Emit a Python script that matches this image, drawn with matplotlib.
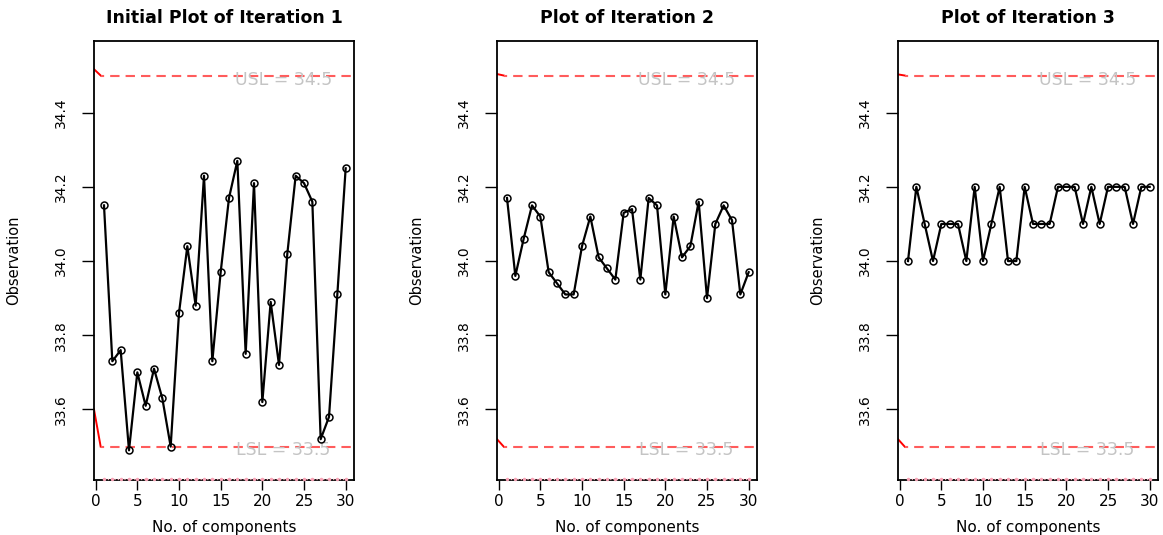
import matplotlib
matplotlib.use("Agg")
import matplotlib.pyplot as plt
import numpy as np

# data
components = list(range(1, 31))

obs_iter1 = [34.15, 33.73, 33.76, 33.49, 33.70, 33.61, 33.71, 33.63, 33.50, 33.86,
             34.04, 33.88, 34.23, 33.73, 33.97, 34.17, 34.27, 33.75, 34.21, 33.62,
             33.89, 33.72, 34.02, 34.23, 34.21, 34.16, 33.52, 33.58, 33.91, 34.25]

obs_iter2 = [34.17, 33.96, 34.06, 34.15, 34.12, 33.97, 33.94, 33.91, 33.91, 34.04,
             34.12, 34.01, 33.98, 33.95, 34.13, 34.14, 33.95, 34.17, 34.15, 33.91,
             34.12, 34.01, 34.04, 34.16, 33.90, 34.10, 34.15, 34.11, 33.91, 33.97]

obs_iter3 = [34.0, 34.2, 34.1, 34.0, 34.1, 34.1, 34.1, 34.0, 34.2, 34.0,
             34.1, 34.2, 34.0, 34.0, 34.2, 34.1, 34.1, 34.1, 34.2, 34.2,
             34.2, 34.1, 34.2, 34.1, 34.2, 34.2, 34.2, 34.1, 34.2, 34.2]

titles = ["Initial Plot of Iteration 1", "Plot of Iteration 2", "Plot of Iteration 3"]

USL = 34.5
LSL = 33.5
# start values of the little red segments at the left edge (usl, lsl)
red_starts = [(34.517, 33.60), (34.504, 33.52), (34.503, 33.52)]

y_ticks = [33.6, 33.8, 34.0, 34.2, 34.4]
x_ticks = [0, 5, 10, 15, 20, 25, 30]

XLIM = (-0.2, 31.0)
YLIM = (33.41, 34.593)


def draw_panel(ax, obs, title, red_start):
    usl0, lsl0 = red_start

    # spec limits : short solid red bit then dashed
    ax.plot([XLIM[0], 0.6], [usl0, USL], color="red", lw=1.4, zorder=2)
    ax.plot([XLIM[0], 0.6], [lsl0, LSL], color="red", lw=1.4, zorder=2)
    for lim in (USL, LSL):
        ax.plot([0.6, XLIM[1]], [lim, lim], color="#ff5c5c", lw=1.5,
                linestyle=(3, (4.5, 2.9)), zorder=2)

    ax.text(22.5, USL - 0.013, f"USL = {USL}", color="#c4c4c4", fontsize=12.5,
            ha="center", va="center", zorder=3)
    ax.text(22.5, LSL - 0.008, f"LSL = {LSL}", color="#c4c4c4", fontsize=12.5,
            ha="center", va="center", zorder=3)

    # pink dotted thing sitting on the bottom axis
    ax.plot(components, [YLIM[0] + 0.004] * len(components), color="#f7a3b5",
            lw=0.9, linestyle=":", marker=".", markersize=3, clip_on=False, zorder=6)

    # the observations
    ax.plot(components, obs, color="black", lw=1.6, marker="o", markersize=5,
            mfc="none", mec="black", mew=1.1, zorder=5)

    ax.set_xlim(*XLIM)
    ax.set_ylim(*YLIM)
    ax.set_xticks(x_ticks)
    ax.set_yticks(y_ticks)
    ax.set_yticklabels([f"{t:.1f}" for t in y_ticks], rotation=90, va="center",
                       family=["Liberation Sans Narrow", "DejaVu Sans"], fontsize=10)
    ax.tick_params(axis="x", length=7, width=1, pad=3, labelsize=11)
    ax.tick_params(axis="y", length=9, width=1, pad=10)

    for sp in ax.spines.values():
        sp.set_linewidth(1.3)

    ax.set_title(title, fontsize=12.5, fontweight="bold", pad=13)
    ax.set_xlabel("No. of components", fontsize=11)
    ax.xaxis.set_label_coords(0.5, -0.09)
    ax.set_ylabel("Observation", fontsize=10.5,
                  family=["Liberation Sans Narrow", "DejaVu Sans"])
    ax.yaxis.set_label_coords(-0.28, 0.5)


fig = plt.figure(figsize=(11.63, 5.35), dpi=100)

lefts = [94 / 1163, 497 / 1163, 898 / 1163]
width = 260 / 1163
bottom = 1 - 480 / 535
height = (480 - 41) / 535

all_obs = [obs_iter1, obs_iter2, obs_iter3]
for i in range(3):
    ax = fig.add_axes([lefts[i], bottom, width, height])
    draw_panel(ax, all_obs[i], titles[i], red_starts[i])

fig.savefig("out.png", dpi=100)
